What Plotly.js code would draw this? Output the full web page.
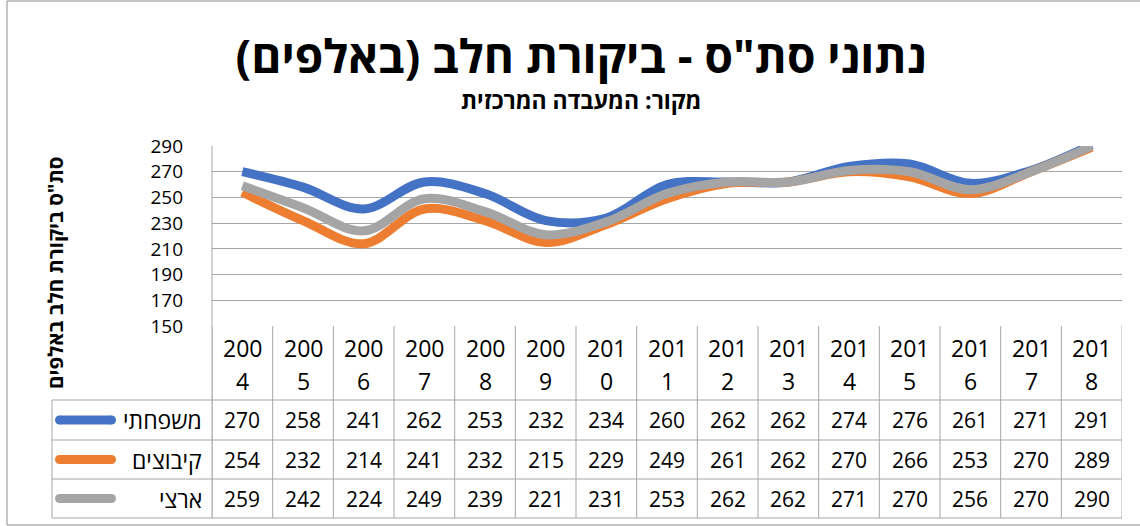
<!DOCTYPE html>
<html>
<head>
<meta charset="utf-8">
<script src="https://cdn.plot.ly/plotly-3.0.1.min.js"></script>
<style>html,body{margin:0;padding:0;background:#fff;}#chart{width:1140px;height:526px;}</style>
</head>
<body>
<div id="chart"></div>
<script>
// ---- data ----
const years = ["2004","2005","2006","2007","2008","2009","2010","2011","2012","2013","2014","2015","2016","2017","2018"];
const seriesNames = ["משפחתי","קיבוצים","ארצי"];
const family   = [270,258,241,262,253,232,234,260,262,262,274,276,261,271,291];
const kibbutz  = [254,232,214,241,232,215,229,249,261,262,270,266,253,270,289];
const national = [259,242,224,249,239,221,231,253,262,262,271,270,256,270,290];
const yTicks = [150,170,190,210,230,250,270,290];
const titleText = "נתוני סת\"ס - ביקורת חלב (באלפים)";
const subtitleText = "מקור: המעבדה המרכזית";
const yTitleText = "סת\"ס ביקורת חלב באלפים";

const colors = ["#4472C4","#ED7D31","#A5A5A5"];
const allSeries = [family, kibbutz, national];

// geometry helpers (pixel -> paper)
const L = 212, R = 1122, T = 146, B = 326;
const W = R - L, H = B - T;
const px = x => (x - L) / W;
const py = y => (B - y) / H;
const RLM = "\u200F";

const traces = allSeries.map((vals, i) => ({
  type: "scatter", mode: "lines", x: years, y: vals, name: seriesNames[i],
  line: {color: colors[i], width: 9, shape: "spline", smoothing: 1},
  hoverinfo: "x+y+name", showlegend: false
}));

const gridCol = "#a6a6a6";
const shapes = [];
const annotations = [];
const numFont = {family: "Open Sans, Noto Sans, sans-serif", size: 21, color: "#000"};
const yrFont  = {family: "Open Sans, Noto Sans, sans-serif", size: 23, color: "#000"};

// outer frame
shapes.push({type:"rect", xref:"paper", yref:"paper", x0:px(7), x1:px(1150), y0:py(525), y1:py(1), line:{color:"#8c8c8c", width:1}, fillcolor:"rgba(0,0,0,0)", layer:"below"});

// table vertical lines at category boundaries
for (let i = 0; i <= years.length; i++) {
  shapes.push({type:"line", xref:"x", yref:"paper", x0:i-0.5, x1:i-0.5, y0:py(326), y1:py(518), line:{color:gridCol, width:1}});
}
// left axis line continuing down through table
shapes.push({type:"line", xref:"paper", yref:"paper", x0:0, x1:0, y0:py(146), y1:py(518), line:{color:gridCol, width:1}});
// legend column left edge
shapes.push({type:"line", xref:"paper", yref:"paper", x0:px(52), x1:px(52), y0:py(400), y1:py(518), line:{color:gridCol, width:1}});
// horizontal table lines
[400, 440, 479, 518].forEach(yy => {
  shapes.push({type:"line", xref:"paper", yref:"paper", x0:px(52), x1:1, y0:py(yy), y1:py(yy), line:{color:gridCol, width:1}});
});

// header row: years split into two lines (x as category index)
years.forEach((yr, i) => {
  annotations.push({xref:"x", yref:"paper", x:i, y:py(348), text:yr.slice(0,3), showarrow:false, font:yrFont, xanchor:"center", yanchor:"middle"});
  annotations.push({xref:"x", yref:"paper", x:i, y:py(381), text:yr.slice(3), showarrow:false, font:yrFont, xanchor:"center", yanchor:"middle"});
});

// data rows
const rowCenters = [420, 459.5, 498.5];
allSeries.forEach((vals, s) => {
  vals.forEach((v, i) => {
    annotations.push({xref:"x", yref:"paper", x:i, y:py(rowCenters[s]), text:String(v), showarrow:false, font:numFont, xanchor:"center", yanchor:"middle"});
  });
  // legend key: line with round ends
  const yc = py(rowCenters[s]);
  shapes.push({type:"line", xref:"paper", yref:"paper", x0:px(59.5), x1:px(111.5), y0:yc, y1:yc, line:{color:colors[s], width:9}});
  [59.5, 111.5].forEach(cx => {
    shapes.push({type:"circle", xref:"paper", yref:"paper", xsizemode:"pixel", ysizemode:"pixel", xanchor:px(cx), yanchor:yc, x0:-4.5, x1:4.5, y0:-4.5, y1:4.5, fillcolor:colors[s], line:{width:0}});
  });
  annotations.push({xref:"paper", yref:"paper", x:px(204), y:yc, text:RLM+seriesNames[s]+RLM, showarrow:false, font:{family:"Open Sans, DejaVu Sans, sans-serif", size:23, color:"#000"}, xanchor:"right", yanchor:"middle"});
});

// subtitle
annotations.push({xref:"paper", yref:"paper", x:px(581), y:py(100), text:"<b>"+RLM+subtitleText+RLM+"</b>", showarrow:false, font:{family:"Open Sans, DejaVu Sans, sans-serif", size:23, color:"#000"}, xanchor:"center", yanchor:"middle"});
// y-axis title
annotations.push({xref:"paper", yref:"paper", x:px(55), y:py(273), text:"<b>"+RLM+yTitleText+RLM+"</b>", textangle:-90, showarrow:false, font:{family:"Open Sans, DejaVu Sans, sans-serif", size:20.5, color:"#000"}, xanchor:"center", yanchor:"middle"});

const layout = {
  width: 1140, height: 526,
  margin: {l: L, r: 1140 - R, t: T, b: 526 - B, pad: 0},
  paper_bgcolor: "#fff", plot_bgcolor: "#fff",
  title: {text: "<b>"+RLM+titleText+RLM+"</b>", x: px(581), xref:"paper", y: 1 - 57/526, yref:"container", xanchor:"center", yanchor:"middle",
          font: {family: "Open Sans, DejaVu Sans, sans-serif", size: 46, color: "#000"}},
  xaxis: {type:"category", range:[-0.5, years.length - 0.5], showticklabels:false, showgrid:false, zeroline:false, showline:false, ticks:"", fixedrange:true},
  yaxis: {range:[150, 290], tickvals: yTicks, ticktext: yTicks.map(String), showgrid:true, gridcolor:gridCol, gridwidth:1, zeroline:false,
          showline:false, ticks:"", ticklabelstandoff: 28,
          tickfont:{family:"Open Sans, Noto Sans, sans-serif", size:19, color:"#000"}, fixedrange:true},
  shapes: shapes, annotations: annotations, showlegend:false
};

Plotly.newPlot("chart", traces, layout, {displayModeBar:false, staticPlot:true});
</script>
</body>
</html>
